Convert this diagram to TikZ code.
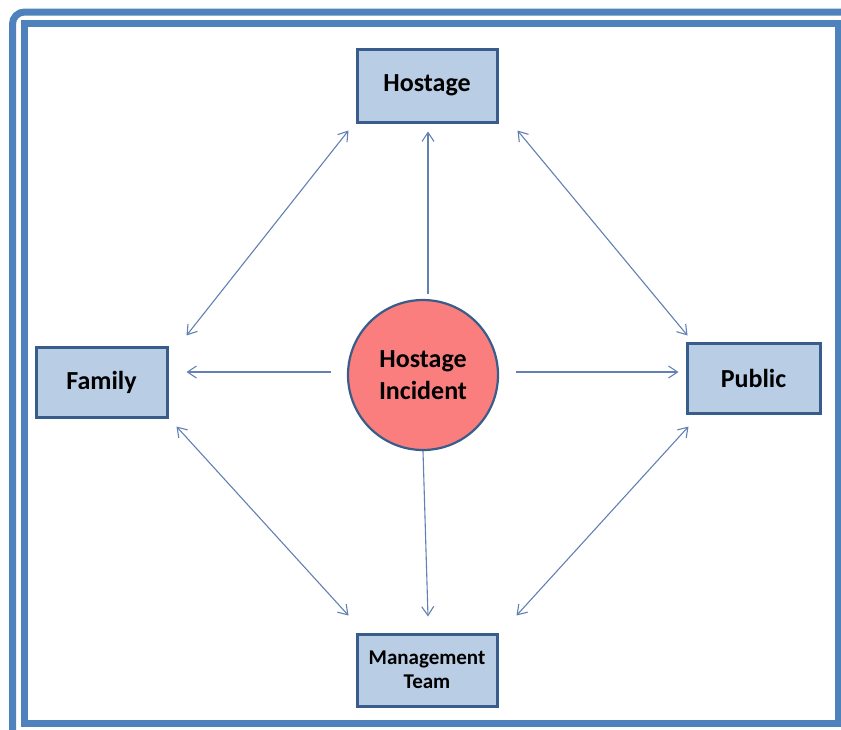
\documentclass[tikz,border=0pt]{standalone}
\usepackage{fontspec}
\setmainfont{Carlito}
\usetikzlibrary{arrows.meta}
\definecolor{framecol}{RGB}{79,129,189}
\definecolor{boxfill}{RGB}{185,205,229}
\definecolor{boxline}{RGB}{56,93,138}
\definecolor{hubfill}{RGB}{250,126,126}
\definecolor{linkcol}{RGB}{98,128,178}
\tikzset{
  actor/.style={draw=boxline, line width=3pt, fill=boxfill, inner sep=0pt,
    align=center, font=\fontsize{26}{31}\selectfont\bfseries, text=black},
  hub/.style={circle, draw=boxline, line width=2.2pt, fill=hubfill, inner sep=0pt,
    minimum size=150pt, align=center, font=\fontsize{26}{31.5}\selectfont\bfseries, text=black},
  link/.style={draw=linkcol, line width=1.1pt, -{Straight Barb[length=9pt,width=12pt]}},
  duallink/.style={draw=linkcol, line width=1.1pt,
    {Straight Barb[length=9pt,width=12pt]}-{Straight Barb[length=9pt,width=12pt]}},
  frame/.style={draw=framecol, line width=7pt}
}
\begin{document}
\begin{tikzpicture}[x=1pt, y=-1pt]
  \useasboundingbox (0,0) rectangle (841,729);
  \clip (0,0) rectangle (841,729);
  % double page frame
  \draw[frame, rounded corners=12pt] (12.5,12) rectangle (870,760);
  \draw[frame] (24.5,23) rectangle (838,723.5);

  % nodes
  \node[hub] (c) at (423,375) {Hostage\\Incident};
  \node[actor, minimum width=140pt, minimum height=73pt] (hostage) at (427,85.5) {Hostage};
  \node[actor, minimum width=131pt, minimum height=70pt] (family) at (101.5,382) {Family};
  \node[actor, minimum width=133pt, minimum height=70pt] (public) at (753.5,378) {Public};
  \node[actor, minimum width=140pt, minimum height=72pt,
        font=\fontsize{21}{24}\selectfont\bfseries] (mgmt) at (427,670) {Management\\Team};

  % links from the incident
  \draw[link] ([shift={(5,-5)}]c.north) -- ([shift={(1,8)}]hostage.south);
  \draw[link] ([shift={(-16,-3)}]c.west) -- ([shift={(18,-10)}]family.east);
  \draw[link] ([shift={(17,-3)}]c.east) -- ([shift={(-7,-6)}]public.west);
  \draw[link] (c.south) -- ([shift={(1,-16)}]mgmt.north);

  % links between the parties
  \draw[duallink] ([shift={(18,-10)}]family.north east) -- ([shift={(-7,7)}]hostage.south west);
  \draw[duallink] ([shift={(19,7)}]hostage.south east) -- ([shift={(2,-6)}]public.north west);
  \draw[duallink] ([shift={(8,8)}]family.south east) -- ([shift={(-7,-17)}]mgmt.north west);
  \draw[duallink] ([shift={(3,12)}]public.south west) -- ([shift={(18,-17)}]mgmt.north east);
\end{tikzpicture}
\end{document}
